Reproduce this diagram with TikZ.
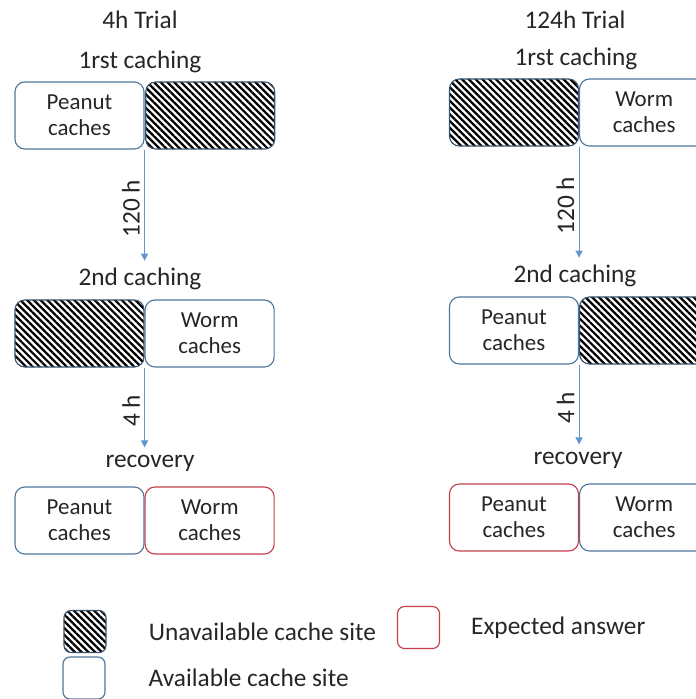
\documentclass[tikz,border=0pt]{standalone}
\usepackage{fontspec}
\setmainfont{Carlito}
\usepackage{tikz}
\usetikzlibrary{positioning,arrows.meta,patterns.meta}
\definecolor{boxblue}{RGB}{78,118,156}
\definecolor{answerred}{RGB}{196,62,72}
\definecolor{arrowblue}{RGB}{98,150,206}

\begin{document}
\begin{tikzpicture}[x=0.025cm,y=-0.025cm,
    txt/.style={font=\fontsize{18}{20}\selectfont, text=black!85},
    tlabel/.style={txt, inner sep=0pt},
    cachebox/.style={txt, font=\fontsize{16.3}{18.5}\selectfont, draw=boxblue, line width=0.8pt, rounded corners=7pt,
        minimum width=3.225cm, minimum height=1.675cm, inner sep=0pt, align=center},
    gonebox/.style={cachebox, draw=boxblue!70!black,
        pattern={Lines[angle=-45,distance=3.4pt,line width=1.6pt]}},
    answerbox/.style={cachebox, draw=answerred},
    keybox/.style={draw=boxblue, line width=0.8pt, rounded corners=5pt, minimum size=1.05cm, inner sep=0pt},
    steparrow/.style={draw=arrowblue, line width=0.7pt, -{Triangle[width=5pt,length=5pt]}, shorten >=5pt},
    hours/.style={txt, midway, rotate=90, anchor=south, inner sep=3pt}]

    \useasboundingbox (0,0) rectangle (696,699);
    \clip (0,0) rectangle (696,699);

    % 4h trial
    \node[tlabel] (trialA) at (140,20) {4h Trial};
    \node[tlabel] (firstA) at (140,62) {1rst caching};
    \node[cachebox] (peanutA1) at (79.5,115.5) {Peanut\\caches};
    \node[gonebox, right=0pt of peanutA1] (goneA1) {};
    \node[tlabel] (secondA) at (140,279) {2nd caching};
    \node[gonebox] (goneA2) at (79.5,333.5) {};
    \node[cachebox, right=0pt of goneA2] (wormA2) {Worm\\caches};
    \node[tlabel] (recA) at (150,463) {recovery};
    \node[cachebox] (peanutA3) at (79.5,520.5) {Peanut\\caches};
    \node[answerbox, right=0pt of peanutA3] (wormA3) {Worm\\caches};

    \draw[steparrow] (peanutA1.south east) -- node[hours] {120 h} (peanutA1.south east |- secondA.north);
    \draw[steparrow] (goneA2.south east) -- node[hours] {4 h} (goneA2.south east |- recA.north);

    % 124h trial
    \node[tlabel] (trialB) at (575,20) {124h Trial};
    \node[tlabel] (firstB) at (576,59) {1rst caching};
    \node[gonebox] (goneB1) at (514,112.5) {};
    \node[cachebox, right=0pt of goneB1] (wormB1) {Worm\\caches};
    \node[tlabel] (secondB) at (575,276) {2nd caching};
    \node[cachebox] (peanutB2) at (514,330.5) {Peanut\\caches};
    \node[gonebox, right=0pt of peanutB2] (goneB2) {};
    \node[tlabel] (recB) at (578,460) {recovery};
    \node[answerbox] (peanutB3) at (514,517.5) {Peanut\\caches};
    \node[cachebox, right=0pt of peanutB3] (wormB3) {Worm\\caches};

    \draw[steparrow] (goneB1.south east) -- node[hours] {120 h} (goneB1.south east |- secondB.north);
    \draw[steparrow] (peanutB2.south east) -- node[hours] {4 h} (peanutB2.south east |- recB.north);

    % legend
    \node[keybox, draw=boxblue!70!black, pattern={Lines[angle=-45,distance=3.4pt,line width=1.6pt]}] (unavKey) at (85,631.5) {};
    \node[keybox] (avKey) at (84,678) {};
    \node[keybox, draw=answerred] (answerKey) at (418.5,627.5) {};
    \node[tlabel, anchor=west, right=1.05cm of unavKey] (unavText) {Unavailable cache site};
    \node[tlabel, anchor=west, right=1.07cm of avKey] (avText) {Available cache site};
    \node[tlabel, anchor=west, right=0.77cm of answerKey] (answerText) {Expected answer};
\end{tikzpicture}
\end{document}
